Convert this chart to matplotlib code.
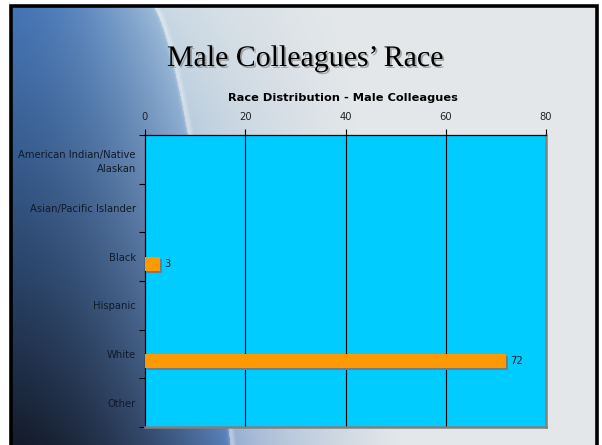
import numpy as np
import matplotlib
matplotlib.use("Agg")
import matplotlib.pyplot as plt
import matplotlib.patheffects as pe
import matplotlib.transforms as mtransforms

# ---- data ----
categories = ["American Indian/Native\nAlaskan", "Asian/Pacific Islander", "Black",
              "Hispanic", "White", "Other"]
values = [0, 0, 3, 0, 72, 0]
x_ticks = [0, 20, 40, 60, 80]
slide_title = "Male Colleagues\u2019 Race"
chart_title = "Race Distribution - Male Colleagues"

W, H = 602, 445
fig = plt.figure(figsize=(W / 100, H / 100), dpi=100)

# ---- slide background (decorative gradient) ----
yy, xx = np.mgrid[0:H, 0:W].astype(float)
ty = yy / H
xb = 147 + 83 * ty ** 0.6
def c(h):
    h = h.lstrip('#')
    return np.array([int(h[i:i + 2], 16) / 255 for i in (0, 2, 4)])
td = (ty ** 1.2)[..., None]
dark_top, dark_bot = c('#4474b4'), c('#141b2a')
light_top, light_bot = c('#9ebcd8'), c('#5a82bc')
dark = dark_top[None, None, :] * (1 - td) + dark_bot[None, None, :] * td
light = light_top[None, None, :] * (1 - td) + light_bot[None, None, :] * td
s = np.clip(xx / xb, 0, 1) ** 1.8
left = dark * (1 - s[..., None]) + light * s[..., None]
tr = np.clip((xx - xb) / 170, 0, 1) ** 0.6
lb_top, lb_bot = c('#c4d6e2'), c('#8aa6cc')
lb = lb_top[None, None, :] * (1 - ty[..., None]) + lb_bot[None, None, :] * ty[..., None]
gray = c('#e3e7e9')[None, None, :]
right = lb * (1 - tr[..., None]) + gray * tr[..., None]
img = np.where((xx < xb)[..., None], left, right)
streak = np.exp(-((xx - xb - 2) / 3.0) ** 2)[..., None] * 0.35
img = np.clip(img + streak * (1 - img), 0, 1)
mask = (xx < 11) | (yy < 6) | (xx > 597)
img[mask] = 1.0

axbg = fig.add_axes([0, 0, 1, 1])
axbg.imshow(img, extent=(0, W, H, 0), aspect='auto', interpolation='bilinear')
axbg.set_xlim(0, W)
axbg.set_ylim(H, 0)
axbg.plot([11, 11, 597, 597], [H + 5, 6, 6, H + 5], color='black', lw=2.6,
          solid_joinstyle='miter')
axbg.axis('off')

# ---- titles ----
fig.text(305 / W, 1 - 66 / H, slide_title, ha='center', va='baseline',
         family='Liberation Serif', fontsize=21.5, color='black',
         path_effects=[pe.withSimplePatchShadow(offset=(1.3, -1.3),
                                                shadow_rgbFace='#8a8a8a', alpha=0.7)])
fig.text(343 / W, 1 - 101 / H, chart_title, ha='center', va='baseline',
         family='DejaVu Sans', fontsize=8.2, fontweight='bold', color='black')

# ---- chart ----
x0, x1, y0, y1 = 145, 546, 135, 427
ax = fig.add_axes([x0 / W, 1 - y1 / H, (x1 - x0) / W, (y1 - y0) / H])
ax.set_facecolor('#00ccff')
n = len(categories)
pos = np.arange(n)
bh = 0.29
shadow_tr = ax.transData + mtransforms.ScaledTranslation(2 / 100, -2 / 100, fig.dpi_scale_trans)
ax.barh(pos + bh / 2, values, height=bh, color='#7a7a7a', transform=shadow_tr, zorder=2)
ax.barh(pos + bh / 2, values, height=bh, color='#ff9900', zorder=3)
for p, v in zip(pos, values):
    if v > 0:
        ax.annotate(str(v), (v, p + bh / 2), xytext=(3, 0), textcoords='offset points',
                    ha='left', va='center', fontsize=7.2, color='#0b1e3c', zorder=4)

ax.set_xlim(0, 80)
ax.set_ylim(n - 0.5, -0.5)
ax.xaxis.tick_top()
ax.set_xticks(x_ticks)
ax.set_xticklabels([str(t) for t in x_ticks], fontsize=7.2, color='#222222')
ax.tick_params(axis='x', length=4, width=0.8, color='black', pad=5)
ax.set_yticks(np.arange(-0.5, n, 1.0))
ax.set_yticklabels([])
ax.set_yticks(pos, minor=True)
ax.set_yticklabels(categories, minor=True, fontsize=7.2, color='#101a2a',
                   ha='right', linespacing=1.5)
ax.tick_params(axis='y', which='major', length=4, width=0.8, color='black')
ax.tick_params(axis='y', which='minor', length=0, pad=6.5)
for t in x_ticks[1:-1]:
    ax.axvline(t, color='black', lw=0.8, zorder=1)
ax.spines['left'].set_color('black')
ax.spines['top'].set_color('black')
ax.spines['left'].set_linewidth(0.9)
ax.spines['top'].set_linewidth(0.9)
ax.spines['right'].set_color('#808080')
ax.spines['bottom'].set_color('#808080')
ax.spines['right'].set_linewidth(1.8)
ax.spines['bottom'].set_linewidth(1.8)

fig.savefig('out.png', dpi=100)
